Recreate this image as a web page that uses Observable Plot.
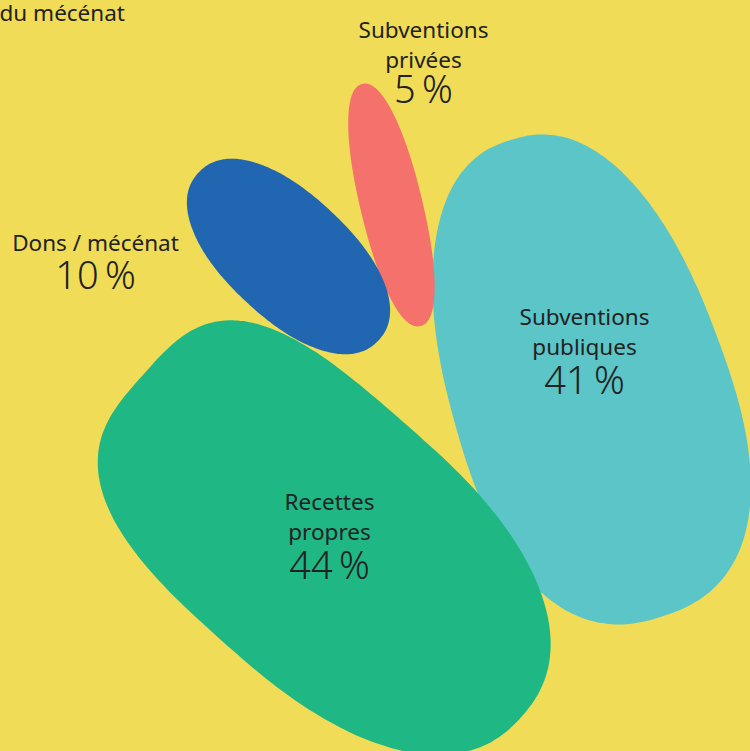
<!DOCTYPE html>
<html><head><meta charset="utf-8">
<script src="https://cdn.jsdelivr.net/npm/d3@7"></script>
<script src="https://cdn.jsdelivr.net/npm/@observablehq/plot@0.6"></script>
<style>
html,body{margin:0;padding:0;background:#F0DC57;}
#chart{width:750px;height:751px;overflow:hidden;}
</style></head>
<body><div id="chart"></div>
<script>
// ---- data ----
const categories = ["Subventions publiques", "Recettes propres", "Subventions privées", "Dons / mécénat"];
const labelLines = [["Subventions", "publiques"], ["Recettes", "propres"], ["Subventions", "privées"], ["Dons / mécénat"]];
const shares = [41, 44, 5, 10];
const titleFragment = "du mécénat";

// ---- styles ----
const colors = ["#5BC5C8", "#1FB784", "#F5716C", "#2166B0"];
const ink = "#222222";

// ---- layout (blob geometry & label anchors, in pixel units of the frame) ----
const blobCx    = [585, 328, 391, 288];
const blobCy    = [378, 545, 205, 256];
const blobA1    = [250, 252, 125, 123];   // half-length toward the upper end
const blobA2    = [250, 258, 124, 123];   // half-length toward the lower end
const blobB     = [138, 142, 31, 62];
const blobAngle = [72, 41.5, 76.5, 43];
// superellipse exponent per quadrant: [upper end/outer side, upper end/inner side, lower end/inner side, lower end/outer side]
const blobPow   = [[2.4, 2.3, 2.4, 2.4], [3.4, 3, 2.3, 2.3], [2.2, 2.2, 2.2, 2.2], [2.2, 2.2, 2.2, 2.2]];
const blobTaper = [0.08, 0, 0, 0];
const labelX    = [584, 329, 423, 95];
const labelY    = [330, 515, 43, 241];
const pctY      = [381, 566, 90, 276];

const W = 750, H = 751;

function outline(i) {
  const pts = [];
  const N = 200, th = blobAngle[i] * Math.PI / 180;
  for (let j = 0; j < N; j++) {
    const t = 2 * Math.PI * j / N;
    const c = Math.cos(t), s = Math.sin(t);
    const q = c < 0 ? (s < 0 ? 0 : 1) : (s >= 0 ? 2 : 3);
    const e = 2 / blobPow[i][q];
    const u = Math.sign(c) * Math.pow(Math.abs(c), e);
    const v = Math.sign(s) * Math.pow(Math.abs(s), e);
    const lx = (u >= 0 ? blobA2[i] : blobA1[i]) * u;
    const ly = blobB[i] * v * (1 + blobTaper[i] * u);
    pts.push({
      cat: categories[i],
      x: blobCx[i] + lx * Math.cos(th) - ly * Math.sin(th),
      y: blobCy[i] + lx * Math.sin(th) + ly * Math.cos(th)
    });
  }
  return pts;
}
const order = [0, 1, 2, 3];
const shapes = order.flatMap(outline);
const labels = categories.map((c, i) => ({cat: c, text: labelLines[i].join("\n"), x: labelX[i], y: labelY[i]}));
const pcts = categories.map((c, i) => ({cat: c, text: shares[i] + "\u2009%", x: labelX[i], y: pctY[i]}));

const chart = Plot.plot({
  width: W, height: H,
  margin: 0,
  style: {background: "#F0DC57", fontFamily: "'Noto Sans', sans-serif", color: ink},
  x: {domain: [0, W], range: [0, W], axis: null},
  y: {domain: [0, H], range: [0, H], axis: null},
  color: {domain: categories, range: colors},
  marks: [
    Plot.line(shapes, {x: "x", y: "y", z: "cat", fill: "cat", stroke: null, curve: "catmull-rom-closed"}),
    Plot.text(labels, {x: "x", y: "y", text: "text", fontSize: 22.5, lineHeight: 1.333, fill: ink}),
    Plot.text(pcts, {x: "x", y: "y", text: "text", fontSize: 38, fontWeight: 300, fill: ink}),
    Plot.text([titleFragment], {text: d => d, frameAnchor: "top-left", textAnchor: "start", lineAnchor: "top", dx: -1, dy: 5, fontSize: 22.5, fill: ink})
  ]
});
document.getElementById("chart").appendChild(chart);
</script></body></html>
